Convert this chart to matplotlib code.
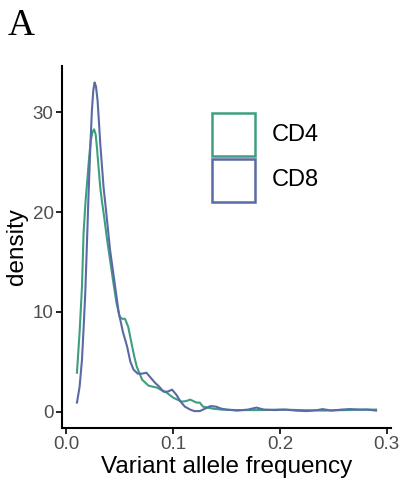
import matplotlib
matplotlib.use("Agg")
import matplotlib.pyplot as plt
from matplotlib.patches import Rectangle

# densities
cd4_x = [0.010, 0.0125, 0.0147, 0.0162, 0.018, 0.0199, 0.0215, 0.023, 0.0245, 0.026,
         0.0275, 0.0287, 0.030, 0.0318, 0.0335, 0.0355, 0.038, 0.041, 0.044, 0.047,
         0.050, 0.0525, 0.055, 0.058, 0.061, 0.0635, 0.066, 0.071, 0.077, 0.081,
         0.085, 0.090, 0.094, 0.100, 0.104, 0.108, 0.112, 0.116, 0.122, 0.125,
         0.128, 0.137, 0.145, 0.160, 0.180, 0.200, 0.220, 0.240, 0.260, 0.280, 0.290]
cd4_y = [3.9, 8.0, 12.5, 17.9, 21.0, 23.5, 25.6, 27.2, 28.0, 28.3,
         27.8, 26.5, 24.8, 22.5, 21.0, 19.5, 17.4, 15.2, 13.0, 10.9,
         9.5, 9.3, 9.3, 8.5, 6.9, 5.6, 4.5, 3.2, 2.6, 2.5,
         2.4, 2.1, 1.9, 1.4, 1.2, 1.0, 1.05, 1.2, 0.9, 0.9,
         0.5, 0.3, 0.2, 0.15, 0.15, 0.2, 0.15, 0.1, 0.15, 0.2, 0.2]

cd8_x = [0.010, 0.0125, 0.0147, 0.0162, 0.0178, 0.0194, 0.0209, 0.0225, 0.024, 0.0253,
         0.0265, 0.0278, 0.0293, 0.0305, 0.0318, 0.0335, 0.0349, 0.0374, 0.041, 0.0458,
         0.049, 0.053, 0.057, 0.060, 0.063, 0.067, 0.071, 0.075, 0.079, 0.083,
         0.087, 0.091, 0.095, 0.099, 0.103, 0.107, 0.111, 0.116, 0.120, 0.125,
         0.130, 0.135, 0.140, 0.145, 0.150, 0.160, 0.170, 0.178, 0.185, 0.195,
         0.205, 0.215, 0.225, 0.235, 0.240, 0.248, 0.258, 0.265, 0.275, 0.282, 0.290]
cd8_y = [0.9, 2.5, 5.2, 8.3, 11.9, 17.0, 21.9, 26.5, 30.2, 32.2,
         33.0, 32.6, 31.2, 29.2, 26.9, 24.5, 22.5, 20.0, 16.2, 12.5,
         10.0, 8.0, 6.5, 5.0, 4.2, 3.8, 3.8, 3.9, 3.4, 2.9,
         2.5, 2.0, 2.0, 2.2, 1.7, 1.0, 0.5, 0.2, 0.05, 0.05,
         0.3, 0.55, 0.5, 0.3, 0.2, 0.1, 0.2, 0.4, 0.2, 0.15,
         0.2, 0.1, 0.05, 0.15, 0.25, 0.1, 0.2, 0.25, 0.2, 0.2, 0.1]

groups = ["CD4", "CD8"]
colors = ["#3f9e80", "#5a6aa5"]

plt.rcParams['font.family'] = ['Liberation Sans', 'DejaVu Sans']

fig = plt.figure(figsize=(4.01, 4.96), dpi=100)
ax = fig.add_axes([0.1546, 0.137, 0.8204, 0.730])

ax.plot(cd4_x, cd4_y, color=colors[0], lw=1.5)
ax.plot(cd8_x, cd8_y, color=colors[1], lw=1.5)

ax.set_xlim(-0.004, 0.304)
ax.set_ylim(-1.65, 34.65)
ax.set_xticks([0, 0.1, 0.2, 0.3])
ax.set_xticklabels(["0.0", "0.1", "0.2", "0.3"])
ax.set_yticks([0, 10, 20, 30])

for s in ["top", "right"]:
    ax.spines[s].set_visible(False)
for s in ["left", "bottom"]:
    ax.spines[s].set_linewidth(1.5)
ax.tick_params(length=4, width=1.2, labelsize=13.5, labelcolor="#4d4d4d", pad=2)

ax.set_xlabel("Variant allele frequency", fontsize=17.5, labelpad=2)
ax.set_ylabel("density", fontsize=17.5, labelpad=3)

# legend: outlined boxes
for i, (g, c) in enumerate(zip(groups, colors)):
    top = 113 + i * 46
    fig.patches.append(Rectangle((212 / 401, 1 - (top + 43) / 496), 43 / 401, 43 / 496,
                                 transform=fig.transFigure, fill=False,
                                 edgecolor=c, lw=1.8))
    fig.text(272 / 401, 1 - (top + 21.5) / 496, g, fontsize=17, va="center", ha="left")

fig.text(8 / 401, 1 - 26 / 496, "A", fontsize=27, family="Liberation Serif",
         va="center", ha="left")

fig.savefig("out.png", dpi=100)
